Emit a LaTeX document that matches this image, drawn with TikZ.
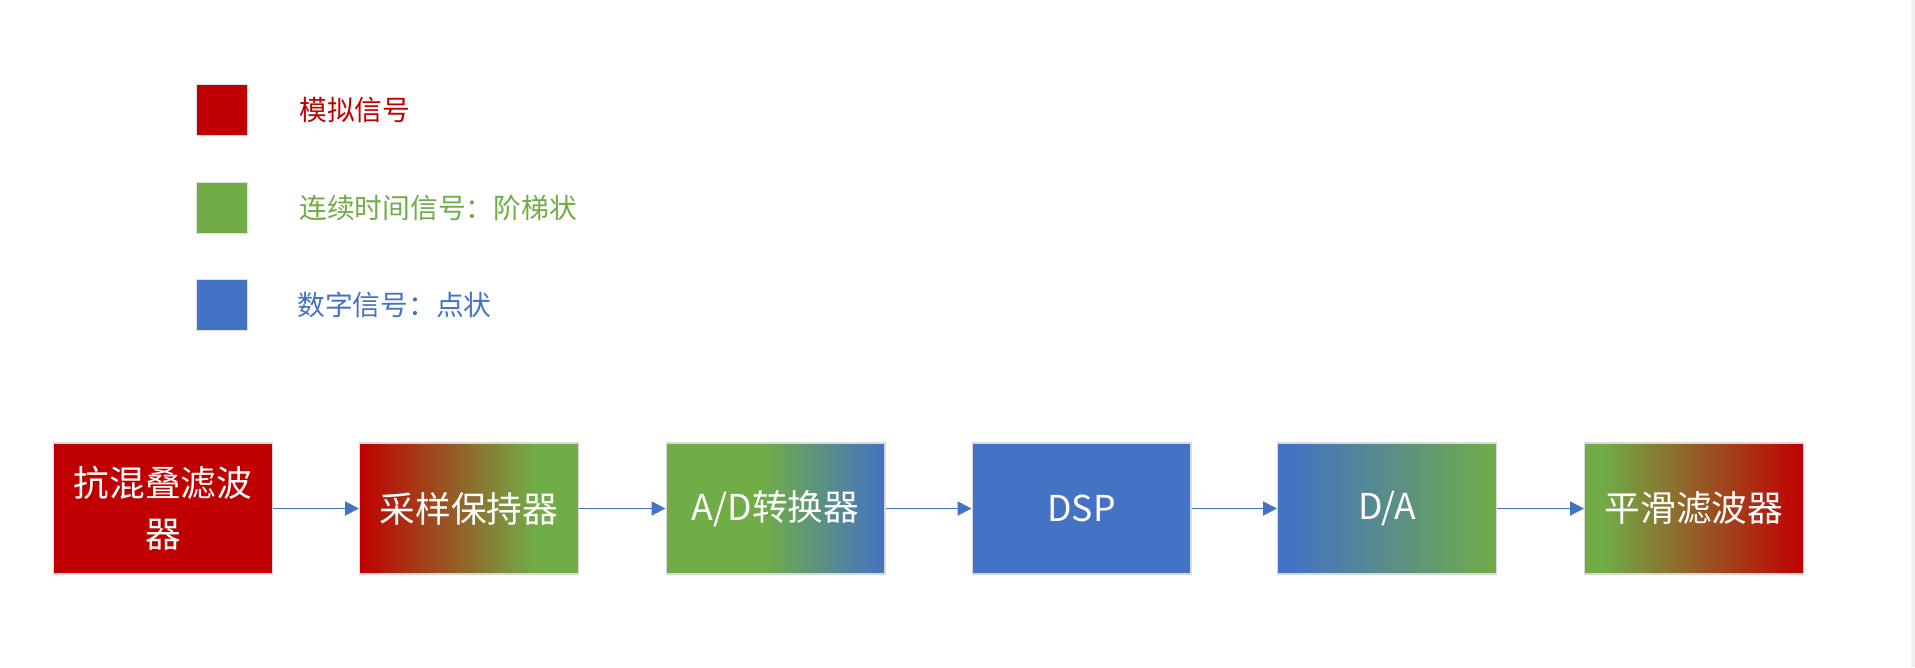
\documentclass[tikz,border=0pt]{standalone}
\usepackage{fontspec}
\setmainfont{Noto Sans CJK SC}
\usetikzlibrary{arrows.meta}

\definecolor{sigred}{RGB}{192,0,0}
\definecolor{siggreen}{RGB}{112,173,71}
\definecolor{sigblue}{RGB}{68,114,196}

% gradients of the mixed blocks (middle 25bp..75bp covers the box)
\pgfdeclarehorizontalshading{redgreen}{100bp}{color(0bp)=(sigred); color(25bp)=(sigred); color(65bp)=(siggreen); color(100bp)=(siggreen)}
\pgfdeclarehorizontalshading{greenblue}{100bp}{color(0bp)=(siggreen); color(47bp)=(siggreen); color(75bp)=(sigblue); color(100bp)=(sigblue)}
\pgfdeclarehorizontalshading{bluegreen}{100bp}{color(0bp)=(sigblue); color(28bp)=(sigblue); color(75bp)=(siggreen); color(100bp)=(siggreen)}
\pgfdeclarehorizontalshading{greenred}{100bp}{color(0bp)=(siggreen); color(29bp)=(siggreen); color(75bp)=(sigred); color(100bp)=(sigred)}

\begin{document}
\begin{tikzpicture}[x=0.02cm,y=-0.02cm,>={Triangle[length=0.28cm,width=0.28cm]}]
\useasboundingbox (0,0) rectangle (1915,667);
\fill[white] (0,0) rectangle (1915,667);
\fill[black!6] (1911,0) rectangle (1915,667);

% legend
\begin{scope}[every node/.style={draw=black!12,line width=0.6pt,minimum size=1.02cm,inner sep=0pt}]
\node[fill=sigred] (l1) at (222,110) {};
\node[fill=siggreen] (l2) at (222,208) {};
\node[fill=sigblue] (l3) at (222,305) {};
\end{scope}

\begin{scope}[every node/.style={anchor=west,inner sep=0pt,font=\fontsize{15.8}{19}\selectfont}]
\node[text=sigred] (t1) at (299,110) {模拟信号};
\node[text=siggreen] (t2) at (299,208) {连续时间信号：阶梯状};
\node[text=sigblue] (t3) at (297,305) {数字信号：点状};
\end{scope}

% processing chain
\begin{scope}[every node/.style={draw=black!15,line width=0.6pt,minimum width=4.38cm,minimum height=2.62cm,inner sep=2pt,text=white,align=center,font=\fontsize{20.3}{29}\selectfont}]

\node[fill=sigred] (b1) at (163,508.5) {抗混叠滤波\\器};
\node[shading=redgreen] (b2) at (469,508.5) {采样保持器};
\node[shading=greenblue] (b3) at (775.5,508.5) {A/D转换器};
\node[fill=sigblue] (b4) at (1081.5,508.5) {DSP};
\node[shading=bluegreen] (b5) at (1387,508.5) {D/A};
\node[shading=greenred] (b6) at (1694,508.5) {平滑滤波器};

\end{scope}

\draw [->,sigblue,line width=1.1pt] (b1) -- (b2);
\draw [->,sigblue,line width=1.1pt] (b2) -- (b3);
\draw [->,sigblue,line width=1.1pt] (b3) -- (b4);
\draw [->,sigblue,line width=1.1pt] (b4) -- (b5);
\draw [->,sigblue,line width=1.1pt] (b5) -- (b6);

\end{tikzpicture}
\end{document}
